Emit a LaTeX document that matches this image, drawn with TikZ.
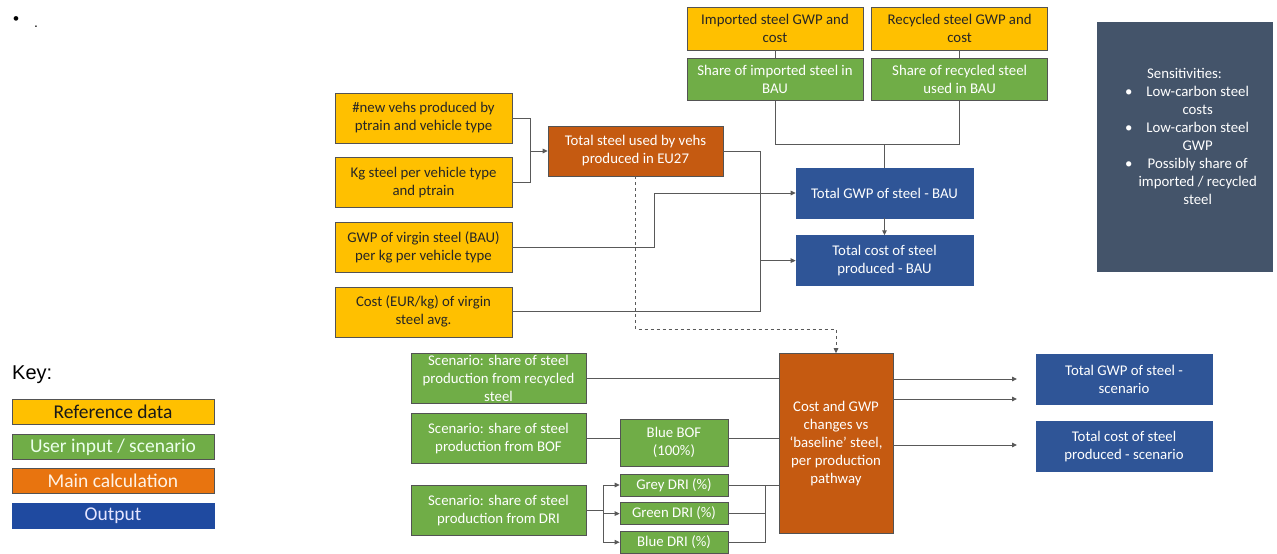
\documentclass[tikz,border=0pt]{standalone}
\usepackage{fontspec}
\setmainfont{Carlito}
\newfontfamily\arialfont{Liberation Sans}
\usetikzlibrary{positioning,arrows.meta}
\definecolor{refyellow}{HTML}{FFC000}
\definecolor{usergreen}{HTML}{70AD47}
\definecolor{calcorange}{HTML}{C55A11}
\definecolor{keyorange}{HTML}{E8740F}
\definecolor{outblue}{HTML}{2F5597}
\definecolor{keyblue}{HTML}{1F4AA0}
\definecolor{sensgrey}{HTML}{44546A}
\definecolor{linegrey}{HTML}{595959}
\begin{document}
\begin{tikzpicture}[x=1pt, y=-1pt, node distance = {14pt}, >={Triangle[length=5pt,width=4.5pt]},
    main/.style = {draw=gray!65!black, line width=0.6pt, align=center, inner sep=1.5pt, font=\fontsize{14.8}{18}\selectfont},
    refbox/.style = {main, fill=refyellow, text=black!85, minimum width=177pt, minimum height=50pt},
    userbox/.style = {main, fill=usergreen, text=white, minimum width=175pt, minimum height=50pt},
    calcbox/.style = {main, fill=calcorange, text=white, minimum width=175pt, minimum height=50pt},
    outbox/.style = {main, draw=outblue, fill=outblue, text=white, minimum width=177pt, minimum height=50pt},
    keybox/.style = {draw=gray!65!black, line width=0.6pt, minimum width=202pt, minimum height=25pt, inner sep=0pt, font=\fontsize{19.5}{19.5}\selectfont},
    link/.style = {draw=linegrey, line width=0.95pt}]
                  \useasboundingbox (0,0) rectangle (1277,554);
                  \node[font=\arialfont\fontsize{17}{17}\selectfont, inner sep=0pt](23) at (16,21) {\textbullet};
                  \node[font=\arialfont\fontsize{14}{14}\selectfont, inner sep=0pt](24) at (36,27) {.};
                  \node[refbox](1) at (423.5,118) {\#new vehs produced by\\ptrain and vehicle type};
                  \node[refbox](2)[below=of 1] {Kg steel per vehicle type\\and ptrain};
                  \node[refbox](3)[below=of 2] {GWP of virgin steel (BAU)\\per kg per vehicle type};
                  \node[refbox](4)[below=of 3] {Cost (EUR/kg) of virgin\\steel avg.};
                  \node[calcbox](5) at (635.5,151) {Total steel used by vehs\\produced in EU27};
                  \node[refbox, minimum width=176pt, minimum height=43pt](6) at (775,28.5) {Imported steel GWP and\\cost};
                  \node[userbox, minimum width=176pt, minimum height=42pt](7)[below=8pt of 6] {Share of imported steel in\\BAU};
                  \node[refbox, minimum width=176pt, minimum height=43pt](8)[right=8pt of 6] {Recycled steel GWP and\\cost};
                  \node[userbox, minimum width=176pt, minimum height=42pt](9)[below=8pt of 8] {Share of recycled steel\\used in BAU};
                  \node[outbox](10) at (884.5,193) {Total GWP of steel - BAU};
                  \node[outbox](11)[below=17pt of 10] {Total cost of steel\\produced - BAU};
                  \node[main, draw=sensgrey, fill=sensgrey, text=white, minimum width=175pt, minimum height=249pt](12) at (1184.5,146.5) {\begin{tabular}{@{\hspace{13pt}}c@{\hspace{6pt}}c@{}}
                      \multicolumn{2}{@{}c@{}}{Sensitivities:}\\
                      \textbullet & Low-carbon steel\\
                      & costs\\
                      \textbullet & Low-carbon steel\\
                      & GWP\\
                      \textbullet & Possibly share of\\
                      & imported / recycled\\
                      & steel\\[17pt]
                    \end{tabular}};
                  \node[userbox](13) at (498.5,378) {Scenario: share of steel\\production from recycled\\steel};
                  \node[userbox](14)[below=10pt of 13] {Scenario: share of steel\\production from BOF};
                  \node[userbox](15)[below=21pt of 14] {Scenario: share of steel\\production from DRI};
                  \node[userbox, minimum width=108pt, minimum height=47pt](16) at (674,442.5) {Blue BOF\\(100\%)};
                  \node[userbox, minimum width=108pt, minimum height=22pt](17) at (674,485) {Grey DRI (\%)};
                  \node[userbox, minimum width=108pt, minimum height=22pt](18)[below=6pt of 17] {Green DRI (\%)};
                  \node[userbox, minimum width=108pt, minimum height=22pt](19)[below=6pt of 18] {Blue DRI (\%)};
                  \node[calcbox, minimum width=114pt, minimum height=180pt](20) at (836,443.5) {Cost and GWP\\changes vs\\`baseline' steel,\\per production\\pathway};
                  \node[outbox, minimum width=176pt](21) at (1124,379) {Total GWP of steel -\\scenario};
                  \node[outbox, minimum width=176pt](22)[below=17pt of 21] {Total cost of steel\\produced - scenario};
                  \node[font=\arialfont\fontsize{20}{20}\selectfont, inner sep=0pt, anchor=west](25) at (12,375) {Key:};
                  \node[keybox, fill=refyellow, text=black!90](26) at (113,411.5) {Reference data};
                  \node[keybox, fill=usergreen, text=white!92!green](27)[below=10pt of 26] {User input / scenario};
                  \node[keybox, fill=keyorange, text=white!90!orange](28)[below=8pt of 27] {Main calculation};
                  \node[keybox, draw=keyblue, fill=keyblue, text=white!90!blue](29)[below=9pt of 28] {Output};
                  \coordinate (e1) at (1017,379);
                  \coordinate (e2) at (1017,399);
                  \coordinate (e3) at (1017,445);
                  \draw[link] (1.east) -- ++(18,0) coordinate (j1) |- (2.east);
                  \draw[link,->] (j1 |- 5.west) -- (5.west);
                  \draw[link] (5.east) -- ++(37,0) coordinate (j2) |- (4.east);
                  \draw[link,->] (j2 |- 11.west) -- (11.west);
                  \draw[link,->] (3.east) -- ++(142,0) |- (10.west);
                  \draw[link] (6) -- (7);
                  \draw[link] (8) -- (9);
                  \draw[link] (7.south) -- ++(0,44) coordinate (j3) -| (9.south);
                  \draw[link] (j3 -| 10.north) -- (10.north);
                  \draw[link,->] (10.south) -- (11.north);
                  \draw[link,->, dashed] (5.south) -- ++(0,153) -| (20.north);
                  \draw[link] (13.east) -- (13.east -| 20.west);
                  \draw[link] (14.east) -- (14.east -| 16.west);
                  \draw[link] (16.east |- 14.east) -- (14.east -| 20.west);
                  \draw[link] (15.east) -- ++(17,0) coordinate (j4);
                  \draw[link,->] (j4) |- (17.west);
                  \draw[link,->] (j4) |- (18.west);
                  \draw[link,->] (j4) |- (19.west);
                  \draw[link] (17.east) -- (17.east -| 20.west);
                  \draw[link] (18.east) -- ++(37,0) |- (17.east);
                  \draw[link] (19.east) -- ++(37,0) |- (17.east);
                  \draw[link,->] (20.east |- e1) -- (e1);
                  \draw[link,->] (20.east |- e2) -- (e2);
                  \draw[link,->] (20.east |- e3) -- (e3);
          \end{tikzpicture}
\end{document}
